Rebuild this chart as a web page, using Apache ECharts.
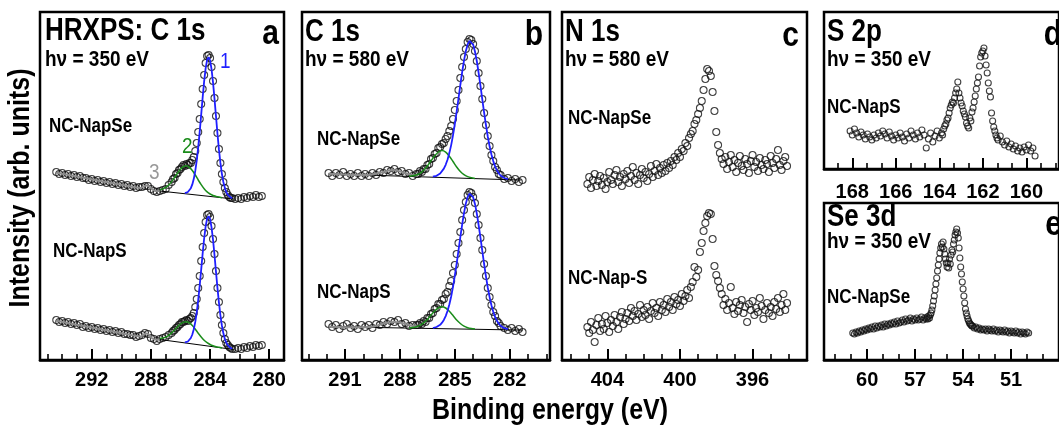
<!DOCTYPE html>
<html>
<head>
    <meta charset="utf-8">
    <title>HRXPS</title>
    <script type="text/javascript" src="https://cdn.jsdelivr.net/npm/echarts@6/dist/echarts.min.js"></script>
    <style>
        body { margin: 0; background: #fff; }
        #main { width: 1059px; height: 430px; }
    </style>
</head>
<body>
<div id="main"></div>
<script type="text/javascript">
    // ---- panel a : C 1s, hv = 350 eV ----
    var aEV = [294.4,294.2,294.0,293.8,293.6,293.4,293.2,293.0,292.8,292.6,292.4,292.2,292.0,291.8,291.6,291.4,291.2,291.0,290.8,290.6,
        290.4,290.2,290.0,289.8,289.6,289.4,289.2,289.0,288.8,288.6,288.4,288.2,288.0,287.8,287.6,287.4,287.2,287.0,286.8,286.6,
        286.5,286.4,286.3,286.2,286.1,286.0,285.9,285.8,285.7,285.6,285.5,285.4,285.3,285.2,285.1,285.0,284.9,284.8,284.7,284.6,
        284.5,284.4,284.3,284.2,284.1,284.0,283.9,283.8,283.7,283.6,283.5,283.4,283.3,283.2,283.1,283.0,282.9,282.8,282.7,282.6,282.5,
        282.3,282.1,281.9,281.7,281.5,281.3,281.1,280.9,280.7,280.5];
    var aNapSe = [188,186,187,185,186,184,185,183,184,182,182,180,181,179,180,178,179,177,178,176,
        177,175,176,174,175,173,174,172,173,173,174,174,171,169,168,169,170,171,175,178,
        181,182,186,187,190,191,193,195,194,196,195,197,197,200,203,209,217,228,241,256,
        271,285,297,304,305,302,293,279,262,244,227,211,197,186,178,172,168,165,163,162,162,
        161,162,161,163,162,164,163,165,163,164];
    var aNapS = [40,38,39,37,38,36,37,35,36,33,34,32,33,31,32,30,31,29,30,28,
        29,27,28,26,26,25,25,23,24,25,27,26,22,21,19,21,22,23,25,27,
        29,30,32,33,35,36,38,38,39,40,39,41,42,44,47,53,61,72,84,99,
        113,127,138,145,146,143,134,121,106,89,72,58,45,35,27,21,17,15,13,12,11,
        11,12,11,13,12,14,13,15,14,15];
    var aBlueEV = [285.7,285.6,285.5,285.4,285.3,285.2,285.1,285.0,284.9,284.8,284.7,284.6,284.5,284.4,284.3,284.2,284.1,
        284.0,283.9,283.8,283.7,283.6,283.5,283.4,283.3,283.2,283.1,283.0,282.9,282.8,282.7,282.6,282.5];
    var aBlueNapSe = [166.8,167.3,168.0,169.3,171.8,175.6,181.2,189.1,199.6,212.9,228.4,245.4,262.7,278.6,291.6,300.0,302.8,
        299.7,290.9,277.7,261.4,243.8,226.5,210.6,197.1,186.2,178.0,172.1,167.9,165.2,163.5,162.5,161.7];
    var aBlueNapS = [17.6,17.9,18.5,19.8,22.0,25.5,30.7,38.1,47.9,60.2,74.6,90.4,106.6,121.5,133.5,141.4,143.9,
        141.0,132.7,120.3,105.0,88.4,72.2,57.4,44.7,34.5,26.7,21.1,17.2,14.6,12.9,11.9,11.2];
    var aGreenEV = [287.4,287.2,287.0,286.8,286.6,286.4,286.2,286.0,285.8,285.6,285.4,285.2,285.0,284.8,284.6,284.4,284.2,284.0,283.8,283.6,283.4,283.2];
    var aGreenNapSe = [170.2,171.1,172.6,175.0,178.4,182.5,186.9,190.8,193.4,194.2,192.7,189.5,185.0,180.0,175.3,171.2,168.1,166.0,164.5,163.6,162.9,162.3];
    var aGreenNapS = [21.4,21.9,22.9,24.6,27.1,30.0,33.2,36.0,37.9,38.3,37.1,34.4,30.8,26.8,23.1,19.8,17.3,15.5,14.2,13.3,12.7,12.1];
    var aGrayNapSe = [[294.4,187.3],[293,183.5],[291.5,179.3],[290,175.2],[289,172.5],[288.7,172],[288.5,173.5],[288.3,174.5],[288.1,173.5],[287.9,170.5],[287.6,168.8],[287.4,169.2]];
    var aGrayNapS = [[294.4,39.3],[293,35.3],[291.5,31.1],[290,26.8],[289,24],[288.7,23.5],[288.5,25.5],[288.3,26.5],[288.1,25],[287.9,21.5],[287.6,20.3],[287.4,20.8]];
    var aBgNapSe = [[287.6,169.3],[282.4,161]];
    var aBgNapS = [[287.6,20.9],[282.4,10.5]];

    // ---- panel b : C 1s, hv = 580 eV ----
    var bEV = [291.9,291.7,291.5,291.3,291.1,290.9,290.7,290.5,290.3,290.1,289.9,289.7,289.5,289.3,289.1,288.9,288.7,288.5,288.3,288.1,
        287.9,287.7,287.5,287.3,287.1,
        287.0,286.9,286.8,286.7,286.6,286.5,286.4,286.3,286.2,286.1,286.0,285.9,285.8,285.7,285.6,285.5,285.4,285.3,285.2,285.1,
        285.0,284.9,284.8,284.7,284.6,284.5,284.4,284.3,284.2,284.1,284.0,283.9,283.8,283.7,283.6,283.5,283.4,283.3,283.2,283.1,
        283.0,282.9,282.8,282.7,282.6,282.5,
        282.3,282.1,281.9,281.7,281.5,281.3];
    var bNapSe = [187,184,187,185,188,184,186,184,187,184,186,184,187,185,188,187,190,189,191,188,189,186,187,184,186,
        186,189,188,191,191,195,196,201,202,206,207,212,213,216,217,221,224,229,234,241,
        250,259,270,282,293,303,311,318,321,320,316,309,299,287,274,261,247,235,224,214,
        205,199,193,190,186,185,
        181,182,179,181,178,180];
    var bNapS = [36,33,35,31,34,36,32,34,31,35,33,35,32,36,35,38,36,39,38,40,36,37,34,35,35,
        35,37,36,39,38,42,42,46,47,51,52,56,56,60,61,66,68,74,79,87,
        95,106,117,128,140,150,158,165,168,167,163,157,146,135,122,110,96,84,72,63,
        55,48,44,39,37,34,
        32,30,32,29,31,28];
    var bBlueEV = [286.2,286.1,286.0,285.9,285.8,285.7,285.6,285.5,285.4,285.3,285.2,285.1,285.0,284.9,284.8,284.7,284.6,284.5,284.4,284.3,
        284.2,284.1,284.0,283.9,283.8,283.7,283.6,283.5,283.4,283.3,283.2,283.1,283.0,282.9,282.8,282.7,282.6,282.5,282.3,282.1];
    var bBlueNapSe = [183.3,183.6,184.2,185.1,186.5,188.5,191.4,195.2,200.3,206.9,214.9,224.7,236.0,248.3,261.5,275.0,287.8,299.4,308.8,315.6,
        319.1,319.1,315.4,308.5,299.0,287.2,274.4,260.7,247.4,235.0,223.5,213.7,205.5,198.9,193.6,189.7,186.7,184.5,182.0,180.9];
    var bBlueNapS = [32.0,32.4,33.0,33.9,35.2,37.3,40.1,43.9,49.0,55.5,63.5,73.1,84.3,96.4,109.5,122.8,135.3,146.9,156.3,162.9,
        166.4,166.4,162.8,156.1,146.7,135.0,122.4,109.1,96.0,83.7,72.5,62.9,54.7,48.2,43.1,39.2,36.3,34.2,31.8,30.8];
    var bGreenEV = [287.5,287.3,287.1,286.9,286.7,286.5,286.3,286.1,285.9,285.7,285.5,285.3,285.1,284.9,284.7,284.5,284.3,284.1,283.9];
    var bGreenNapSe = [183.8,184.2,185.0,186.7,189.7,194.0,199.2,204.2,208.0,209.4,207.8,203.8,198.5,193.0,188.5,185.3,183.4,182.3,181.6];
    var bGreenNapS = [32.0,32.4,33.2,34.7,37.1,40.5,44.9,49.0,52.2,53.3,52.0,48.8,44.5,40.0,36.5,33.9,32.3,31.4,30.9];
    var bGrayNapSe = [[291.9,186.2],[290,185],[289.5,185.6],[289.1,187.2],[288.7,189.1],[288.4,190],[288.1,189.1],[287.7,186.8],[287.3,185],[287,184]];
    var bGrayNapS = [[291.9,33.3],[290,32.7],[289.4,33.5],[289,36],[288.6,37.5],[288.3,38.1],[288,37.5],[287.6,35.5],[287.2,33.5],[287,33]];
    var bBgNapSe = [[291.9,186.2],[281.4,179.9]];
    var bBgNapS = [[291.9,33.3],[281.3,29.9]];

    // ---- panel c : N 1s ----
    var cEV = [405.1,405.0,404.9,404.8,404.7,404.6,404.5,404.4,404.3,404.2,404.1,404.0,403.9,403.8,403.7,403.6,403.5,403.4,403.3,403.2,
        403.1,403.0,402.9,402.8,402.7,402.6,402.5,402.4,402.3,402.2,402.1,402.0,401.9,401.8,401.7,401.6,401.5,401.4,401.3,401.2,
        401.1,401.0,400.9,400.8,400.7,400.6,400.5,400.4,400.3,400.2,400.1,400.0,399.9,399.8,399.7,399.6,399.5,399.4,399.3,399.2,
        399.1,399.0,398.9,398.8,398.7,398.6,398.5,398.4,398.3,398.2,398.1,398.0,397.9,397.8,397.7,397.6,397.5,397.4,397.3,397.2,
        397.1,397.0,396.9,396.8,396.7,396.6,396.5,396.4,396.3,396.2,396.1,396.0,395.9,395.8,395.7,395.6,395.5,395.4,395.3,395.2,
        395.1,395.0,394.9,394.8,394.7,394.6,394.5,394.4,394.3,394.2,394.1];
    var cNapSe = [176,183,172,180,186,174,179,184,175,182,171,178,188,180,176,185,190,178,183,174,
        186,181,189,177,184,193,180,187,176,185,191,182,188,179,186,194,183,189,196,185,
        192,187,195,189,197,192,199,195,203,200,207,203,211,209,217,214,222,226,229,236,
        240,246,252,259,270,281,291,289,284,268,249,228,215,207,201,196,203,191,198,205,
        193,200,188,197,204,194,190,201,196,187,199,205,193,198,189,202,195,191,200,196,
        188,204,197,192,201,210,195,190,199,203,194];
    var cNapS = [33,27,38,30,18,35,42,29,36,31,44,37,28,40,34,45,38,31,43,48,
        36,41,47,39,52,44,49,40,46,55,43,50,45,53,41,49,57,47,52,44,
        58,50,55,48,61,53,58,50,63,56,60,54,66,59,64,70,62,73,78,93,
        83,90,108,117,129,137,144,147,146,121,94,85,79,72,66,55,61,50,57,73,
        52,46,58,49,55,60,47,53,38,56,50,59,45,52,48,62,54,41,50,57,
        47,53,44,58,51,62,48,55,66,50,57];

    // ---- panel d : S 2p ----
    var dEV = [168.1,168.0,167.9,167.8,167.7,167.6,167.5,167.4,167.3,167.2,167.1,167.0,166.9,166.8,166.7,166.6,166.5,166.4,166.3,166.2,
        166.1,166.0,165.9,165.8,165.7,165.6,165.5,165.4,165.3,165.2,165.1,165.0,164.9,164.8,164.7,164.6,164.5,164.4,164.3,164.2,
        164.1,164.0,163.9,
        163.85,163.80,163.75,163.70,163.65,163.60,163.55,163.50,163.45,163.40,163.35,163.30,163.25,163.20,163.15,163.10,163.05,163.00,
        162.95,162.90,162.85,162.80,162.75,162.70,162.65,162.60,162.55,162.50,162.45,162.40,162.35,162.30,162.25,162.20,162.15,162.10,
        162.05,162.00,161.95,161.90,161.85,161.80,161.75,161.70,161.65,161.60,161.55,161.50,161.45,161.40,161.35,
        161.3,161.2,161.1,161.0,160.9,160.8,160.7,160.6,160.5,160.4,160.3,160.2,160.1,160.0,159.9,159.8,159.7,159.6];
    var dNapS = [38,34,40,36,32,37,34,30,35,32,29,34,31,36,33,38,35,31,37,33,
        29,34,31,36,32,28,35,31,38,34,30,36,32,39,34,21,30,36,27,33,
        38,31,36,
        34,40,43,45,49,51,56,61,64,67,66,71,76,80,87,76,71,66,
        63,58,55,52,46,43,41,51,48,57,61,67,73,80,86,92,103,112,
        116,118,121,113,104,96,86,78,72,56,48,42,38,34,31,
        29,33,27,24,28,22,25,20,23,18,21,17,22,19,24,18,21,13];

    // ---- panel e : Se 3d ----
    var eEV = [60.9,60.8,60.7,60.6,60.5,60.4,60.3,60.2,60.1,60.0,59.9,59.8,59.7,59.6,59.5,59.4,59.3,59.2,59.1,59.0,
        58.9,58.8,58.7,58.6,58.5,58.4,58.3,58.2,58.1,58.0,57.9,57.8,57.7,57.6,57.5,57.4,57.3,57.2,57.1,57.0,
        56.9,56.8,56.7,56.6,56.5,56.4,56.3,
        56.25,56.20,56.15,56.10,56.05,56.00,55.95,55.90,55.85,55.80,55.75,55.70,55.65,55.60,55.55,55.50,55.45,55.40,55.35,55.30,
        55.25,55.20,55.15,55.10,55.05,55.00,54.95,54.90,54.85,54.80,54.75,54.70,54.65,54.60,54.55,54.50,54.45,54.40,54.35,54.30,
        54.25,54.20,54.15,54.10,54.05,54.00,53.95,53.90,53.85,53.80,53.75,53.70,53.65,53.60,53.55,53.50,53.45,
        53.4,53.3,53.2,53.1,53.0,52.9,52.8,52.7,52.6,52.5,52.4,52.3,52.2,52.1,52.0,51.9,51.8,51.7,51.6,51.5,
        51.4,51.3,51.2,51.1,51.0,50.9,50.8,50.7,50.6,50.5,50.4,50.3,50.2,50.1,50.0,49.9];
    var eNapSe = [27,26,28,27,29,28,30,29,31,30,32,31,33,31,34,32,34,33,35,33,
        36,34,36,35,37,36,38,36,39,37,38,40,38,41,39,40,42,39,41,40,
        42,40,41,43,40,42,41,
        43,41,44,42,45,47,50,54,59,64,70,76,82,89,95,101,107,112,116,113,
        118,111,106,101,97,93,97,92,101,96,105,110,108,116,120,125,128,131,127,122,
        112,102,93,86,78,71,64,57,51,47,44,41,39,37,36,35,34,
        34,32,33,31,32,30,31,30,31,29,31,30,29,31,29,30,28,30,29,28,
        30,28,29,27,29,28,27,29,27,28,26,28,27,26,28,27];

    // tick values
    var aMajor = [280, 284, 288, 292];
    var aMinor = [280, 281, 282, 283, 284, 285, 286, 287, 288, 289, 290, 291, 292, 293, 294, 295];
    var bMajor = [282, 285, 288, 291];
    var bMinor = [280, 281, 282, 283, 284, 285, 286, 287, 288, 289, 290, 291, 292, 293];
    var cMajor = [396, 400, 404];
    var cMinor = [394, 395, 396, 397, 398, 399, 400, 401, 402, 403, 404, 405, 406];
    var dMajor = [160, 162, 164, 166, 168];
    var dMinor = [158.667, 159.333, 160.667, 161.333, 162.667, 163.333, 164.667, 165.333, 166.667, 167.333, 168.667];
    var eMajor = [51, 54, 57, 60];
    var eMinor = [49, 50, 51, 52, 53, 54, 55, 56, 57, 58, 59, 60, 61, 62];

    var FONT = 'Liberation Sans';
    var BLUE = '#1f1fff', GREEN = '#1a8c1a', GRAY = '#8c8c8c';
    var STRETCH = 1.18; // the printed figure is a little taller than wide

    function zip(xs, ys) {
        return xs.map(function (x, i) { return [x, ys[i]]; });
    }

    // panel frames (pixels) and x ranges
    var panels = [
        { left: 40, top: 12, width: 244, height: 348, min: 279, max: 295.5, major: aMajor, minor: aMinor, margin: 10 },
        { left: 302, top: 12, width: 248, height: 348, min: 279.8, max: 293.35, major: bMajor, minor: bMinor, margin: 10 },
        { left: 562, top: 12, width: 245, height: 348, min: 393, max: 406.5, major: cMajor, minor: cMinor, margin: 10 },
        { left: 824, top: 12, width: 246, height: 157, min: 158.5, max: 169.3, major: dMajor, minor: dMinor, margin: 13 },
        { left: 824, top: 203, width: 250, height: 157, min: 48, max: 62.7, major: eMajor, minor: eMinor, margin: 10 }
    ];

    var grids = [], xAxes = [], yAxes = [];
    panels.forEach(function (p, i) {
        grids.push({ left: p.left, top: p.top, width: p.width, height: p.height, show: true,
            borderColor: '#000', borderWidth: 2.5, backgroundColor: 'rgba(0,0,0,0)' });
        xAxes.push({
            type: 'value', gridIndex: i, min: p.min, max: p.max, inverse: true, position: 'bottom',
            axisLine: { show: true, lineStyle: { color: '#000', width: 2.5 } },
            axisTick: { show: true, inside: true, length: 11, customValues: p.major, lineStyle: { color: '#000', width: 2 } },
            axisLabel: { show: true, customValues: p.major, color: '#000', fontSize: 20, fontWeight: 'bold', fontFamily: FONT, margin: p.margin },
            splitLine: { show: false }
        });
        xAxes.push({
            type: 'value', gridIndex: i, min: p.min, max: p.max, inverse: true, position: 'bottom',
            axisLine: { show: false },
            axisTick: { show: true, inside: true, length: 6, customValues: p.minor, lineStyle: { color: '#000', width: 1.6 } },
            axisLabel: { show: false },
            splitLine: { show: false }
        });
        yAxes.push({ type: 'value', gridIndex: i, min: 0, max: p.height, show: false });
    });

    function dots(i, data, size) {
        return { type: 'scatter', xAxisIndex: 2 * i, yAxisIndex: i, data: data, symbol: 'circle', symbolSize: size || 7,
            itemStyle: { color: 'rgba(255,255,255,0)', borderColor: '#111', borderWidth: 1.1 }, silent: true };
    }
    function curve(i, data, color, width, smooth) {
        return { type: 'line', xAxisIndex: 2 * i, yAxisIndex: i, data: data, showSymbol: false, symbol: 'none',
            smooth: smooth || false, lineStyle: { color: color, width: width }, silent: true, z: 3 };
    }

    var series = [
        dots(0, zip(aEV, aNapSe)), dots(0, zip(aEV, aNapS)),
        curve(0, aBgNapSe, '#000', 1), curve(0, aBgNapS, '#000', 1),
        curve(0, aGrayNapSe, GRAY, 2, 0.4), curve(0, aGrayNapS, GRAY, 2, 0.4),
        curve(0, zip(aGreenEV, aGreenNapSe), GREEN, 1.5, 0.3), curve(0, zip(aGreenEV, aGreenNapS), GREEN, 1.5, 0.3),
        curve(0, zip(aBlueEV, aBlueNapSe), BLUE, 1.8), curve(0, zip(aBlueEV, aBlueNapS), BLUE, 1.8),

        dots(1, zip(bEV, bNapSe)), dots(1, zip(bEV, bNapS)),
        curve(1, bBgNapSe, '#000', 1), curve(1, bBgNapS, '#000', 1),
        curve(1, bGrayNapSe, GRAY, 2, 0.4), curve(1, bGrayNapS, GRAY, 2, 0.4),
        curve(1, zip(bGreenEV, bGreenNapSe), GREEN, 1.5, 0.3), curve(1, zip(bGreenEV, bGreenNapS), GREEN, 1.5, 0.3),
        curve(1, zip(bBlueEV, bBlueNapSe), BLUE, 1.8), curve(1, zip(bBlueEV, bBlueNapS), BLUE, 1.8),

        dots(2, zip(cEV, cNapSe)), dots(2, zip(cEV, cNapS)),
        dots(3, zip(dEV, dNapS), 6),
        dots(4, zip(eEV, eNapSe), 6)
    ];

    function txt(s, x, y, size, opt) {
        opt = opt || {};
        return {
            type: 'text', x: x, y: y, rotation: opt.rotation || 0, scaleY: STRETCH, silent: true, z: 10,
            style: {
                text: s, x: 0, y: 0, fill: opt.color || '#000',
                font: (opt.weight || 'bold') + ' ' + size + 'px "' + FONT + '"',
                textAlign: opt.align || 'left', align: opt.align || 'left',
                textVerticalAlign: 'middle', verticalAlign: 'middle'
            }
        };
    }

    var labels = [
        txt('HRXPS: C 1s', 45, 32, 26), txt('h\u03bd = 350 eV', 45, 60, 19),
        txt('NC-NapSe', 49, 126, 17), txt('NC-NapS', 53, 251, 17),
        txt('a', 279, 34, 30, { align: 'right' }),
        txt('1', 220, 62, 19, { weight: 'normal', color: BLUE }),
        txt('2', 182, 147, 19, { weight: 'normal', color: GREEN }),
        txt('3', 149, 173, 19, { weight: 'normal', color: '#999' }),

        txt('C 1s', 305, 33, 26), txt('h\u03bd = 580 eV', 305, 60, 19),
        txt('NC-NapSe', 317, 139, 17), txt('NC-NapS', 317, 292, 17),
        txt('b', 543, 35, 30, { align: 'right' }),

        txt('N 1s', 565, 33, 26), txt('h\u03bd = 580 eV', 565, 60, 19),
        txt('NC-NapSe', 568, 118, 17), txt('NC-Nap-S', 568, 278, 17),
        txt('c', 799, 36, 30, { align: 'right' }),

        txt('S 2p', 827, 33, 26), txt('h\u03bd = 350 eV', 827, 60, 19),
        txt('NC-NapS', 827, 107, 17),
        txt('d', 1062, 35, 30, { align: 'right' }),

        txt('Se 3d', 827, 218, 26), txt('h\u03bd = 350 eV', 827, 242, 19),
        txt('NC-NapSe', 827, 297, 17),
        txt('e', 1062, 225, 30, { align: 'right' }),

        txt('Intensity (arb. units)', 21, 188, 25, { align: 'center', rotation: Math.PI / 2 }),
        txt('Binding energy (eV)', 550, 411, 25, { align: 'center' })
    ];

    var myChart = echarts.init(document.getElementById('main'));
    myChart.setOption({
        animation: false,
        backgroundColor: '#fff',
        grid: grids,
        xAxis: xAxes,
        yAxis: yAxes,
        series: series,
        graphic: labels
    });
</script>
</body>
</html>
